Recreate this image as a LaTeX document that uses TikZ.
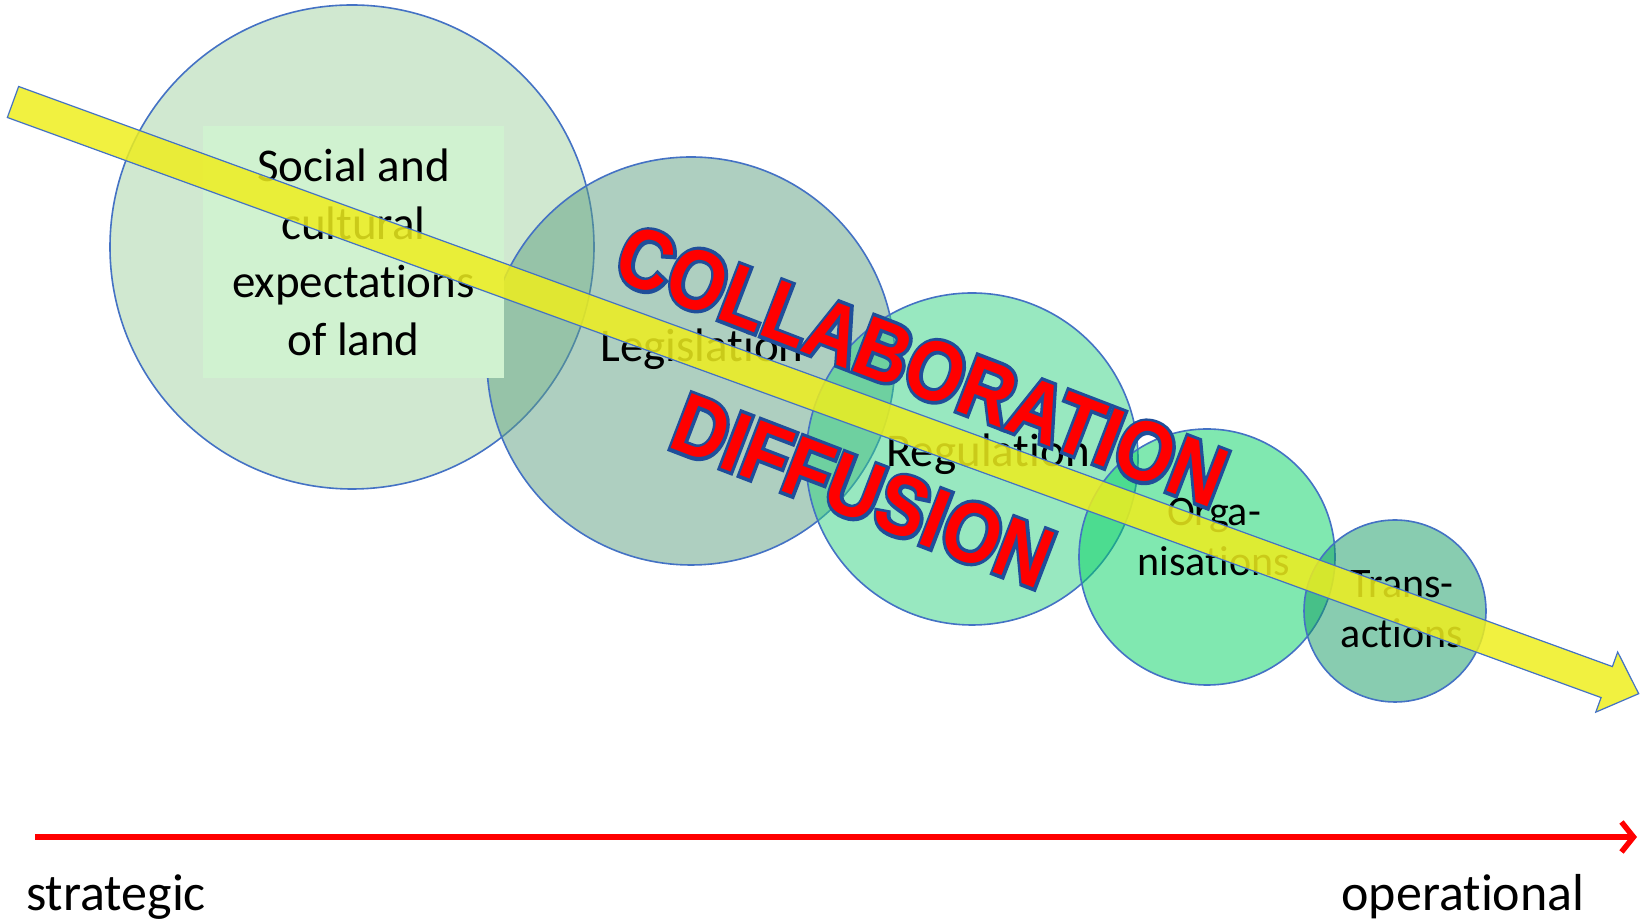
\documentclass[tikz,border=0pt]{standalone}
\usepackage{fontspec}
\setmainfont{Carlito}[Ligatures=NoCommon]
\newfontfamily\bannerfont{Liberation Sans}
\newfontfamily\bannerrimfont{Liberation Sans}[FakeBold=8]
\usetikzlibrary{arrows.meta}

\definecolor{bubbleline}{HTML}{4472C4}
\definecolor{bubbleA}{HTML}{A1D1A1}
\definecolor{bubbleB}{HTML}{5D9F81}
\definecolor{bubbleC}{HTML}{31D181}
\definecolor{bubbleD}{HTML}{01D161}
\definecolor{bubbleE}{HTML}{119961}
\definecolor{boxgreen}{HTML}{D0F2D0}
\definecolor{flowyellow}{HTML}{EEEE1E}
\definecolor{bannerred}{HTML}{FF0000}
\definecolor{bannerline}{HTML}{1F4E9A}

\begin{document}
\begin{tikzpicture}[x=1pt, y=1pt,
    bubble/.style={circle, draw=bubbleline, line width=1.6pt, fill opacity=0.5, inner sep=0pt, minimum size=#1},
    bubbletext/.style={align=center, font=\fontsize{47}{58}\selectfont},
    smalltext/.style={align=center, font=\fontsize{42}{50}\selectfont},
    banner/.style={font=\bannerfont\bfseries\fontsize{74}{74}\selectfont, text=bannerred, rotate=-21, yscale=1.15, inner sep=0pt},
    bannerrim/.style={banner, font=\bannerrimfont\bfseries\fontsize{74}{74}\selectfont, text=bannerline},
    flowarrow/.style={draw=bubbleline, line width=1.2pt, fill=flowyellow, fill opacity=0.85},
    axislabel/.style={anchor=base, font=\fontsize{52}{60}\selectfont}]
    \useasboundingbox (0,0) rectangle (1647,923);

    % Bubbles
    \node[bubble=484pt, fill=bubbleA] (social) at (352,676) {};
    \node[bubble=408pt, fill=bubbleB] (legis) at (691,562) {};
    \node[bubble=332pt, fill=bubbleC] (regul) at (972,464) {};
    \node[bubble=256pt, fill=bubbleD] (organ) at (1207,366) {};
    \node[bubble=182pt, fill=bubbleE] (trans) at (1395,312) {};

    % Bubble texts
    \node[fill=boxgreen, minimum width=301pt, minimum height=252pt, inner sep=0pt] (socialbox) at (353.5,671) {};
    \node[bubbletext] (socialtext) at (socialbox) {Social and\\cultural\\expectations\\of land};
    \node[bubbletext, anchor=base] (legistext) at (702,561) {Legislation};
    \node[bubbletext, anchor=base] (regultext) at (988,456) {Regulation};
    \node[smalltext] (organtext) at (1214,386) {Orga-\\nisations};
    \node[smalltext] (transtext) at (1402,314) {Trans-\\actions};

    % Yellow flow arrow
    \begin{scope}[shift={(13,821)}, rotate=-20]
        \draw[flowarrow] (0,16.5) -- (1696,16.5) -- (1696,32) -- (1730,0)
            -- (1696,-32) -- (1696,-16.5) -- (0,-16.5) -- cycle;
    \end{scope}

    % Banner words: dark rim underneath, red letters on top
    \node[bannerrim] (collabrim) at (922,557) {COLLABORATION};
    \node[bannerrim] (diffusrim) at (863,432) {DIFFUSION};
    \node[banner] (collab) at (collabrim) {COLLABORATION};
    \node[banner] (diffus) at (diffusrim) {DIFFUSION};

    % Axis
    \coordinate (axisstart) at (35,86);
    \coordinate (axisend) at (1637,86);
    \draw[bannerred, line width=5.5pt, -{Straight Barb[length=12pt, width=30pt]}] (axisstart) -- (axisend);
    \node[axislabel] (strategic) at (116,12) {strategic};
    \node[axislabel] (operational) at (1463,12) {operational};
\end{tikzpicture}
\end{document}
